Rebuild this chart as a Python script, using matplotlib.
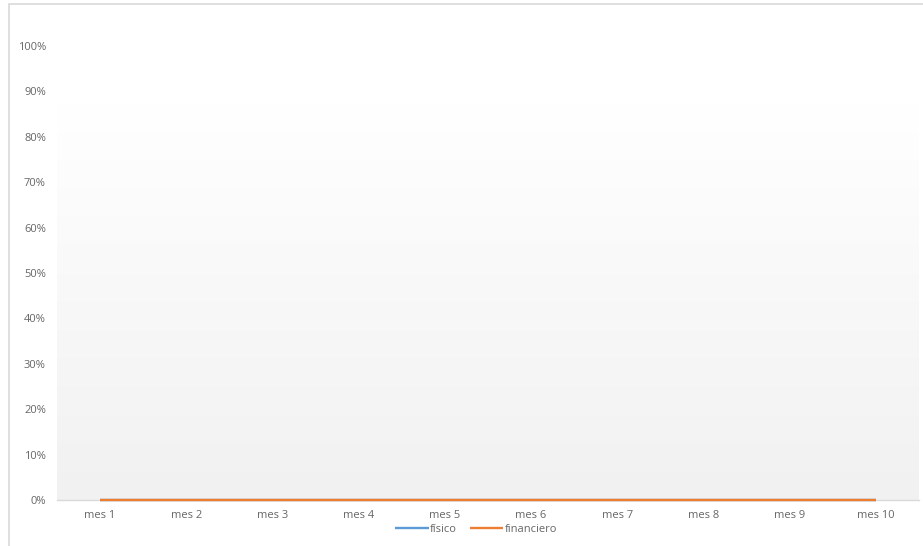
import matplotlib
matplotlib.use('Agg')
import matplotlib.pyplot as plt
import numpy as np
from matplotlib.patches import Rectangle
from matplotlib.ticker import FuncFormatter

###############################################################################
# data
meses = ['mes 1', 'mes 2', 'mes 3', 'mes 4', 'mes 5',
         'mes 6', 'mes 7', 'mes 8', 'mes 9', 'mes 10']
fisico = [0, 0, 0, 0, 0, 0, 0, 0, 0, 0]
financiero = [0, 0, 0, 0, 0, 0, 0, 0, 0, 0]
yTicks = [0, 0.1, 0.2, 0.3, 0.4, 0.5, 0.6, 0.7, 0.8, 0.9, 1.0]

plt.rcParams['font.family'] = ['Open Sans', 'DejaVu Sans']

fig = plt.figure(figsize=(9.23, 5.46), dpi=100)
# outer chart border (only left and top visible)
fig.patches.append(Rectangle((8.5/923, -0.1), 1.2, (546-3.5)/546 + 0.1,
                             transform=fig.transFigure, fill=False,
                             edgecolor='#d9d9d9', linewidth=1.2))

ax = fig.add_axes([57/923, 46/546, 862/923, 495/546])
x = np.arange(len(meses))
ax.set_xlim(-0.5, len(meses) - 0.5)
ax.set_ylim(0, 1.09)

# gradient background of the plot area: white at top to light gray at bottom
grad = np.linspace(0, 1, 256).reshape(-1, 1)
grad = np.clip(grad / 0.8, 0, 1)
top = np.array([1.0, 1.0, 1.0])
bot = np.array([0xf1, 0xf1, 0xf1]) / 255
img = bot + (top - bot) * grad[:, :, None]
ax.imshow(img, extent=[0, 1, 0, 1], transform=ax.transAxes, origin='lower',
          aspect='auto', zorder=0, interpolation='bilinear')

ax.plot(x, fisico, color='#5b9bd5', linewidth=1.7, label='físico', zorder=3,
        solid_capstyle='butt', clip_on=False)
ax.plot(x, financiero, color='#ed7d31', linewidth=1.7, label='financiero', zorder=4,
        solid_capstyle='butt', clip_on=False)

for s in ['top', 'right', 'left']:
    ax.spines[s].set_visible(False)
ax.spines['bottom'].set_color('#d9d9d9')
ax.spines['bottom'].set_linewidth(1)
ax.spines['bottom'].set_zorder(2)

ax.set_xticks(x)
ax.set_xticklabels(meses)
ax.set_yticks(yTicks)
ax.yaxis.set_major_formatter(FuncFormatter(lambda v, p: '%d%%' % round(v*100)))
ax.tick_params(axis='both', length=0, labelsize=8, colors='#666666')
ax.tick_params(axis='x', pad=7)
ax.tick_params(axis='y', pad=8)

leg = fig.legend(loc='center', bbox_to_anchor=(476/923, 1 - 529/546), ncol=2,
                 frameon=False, fontsize=8, handlelength=3.0, handletextpad=0.1,
                 columnspacing=1.2)
for t in leg.get_texts():
    t.set_color('#666666')

fig.savefig('out.png', dpi=100)
